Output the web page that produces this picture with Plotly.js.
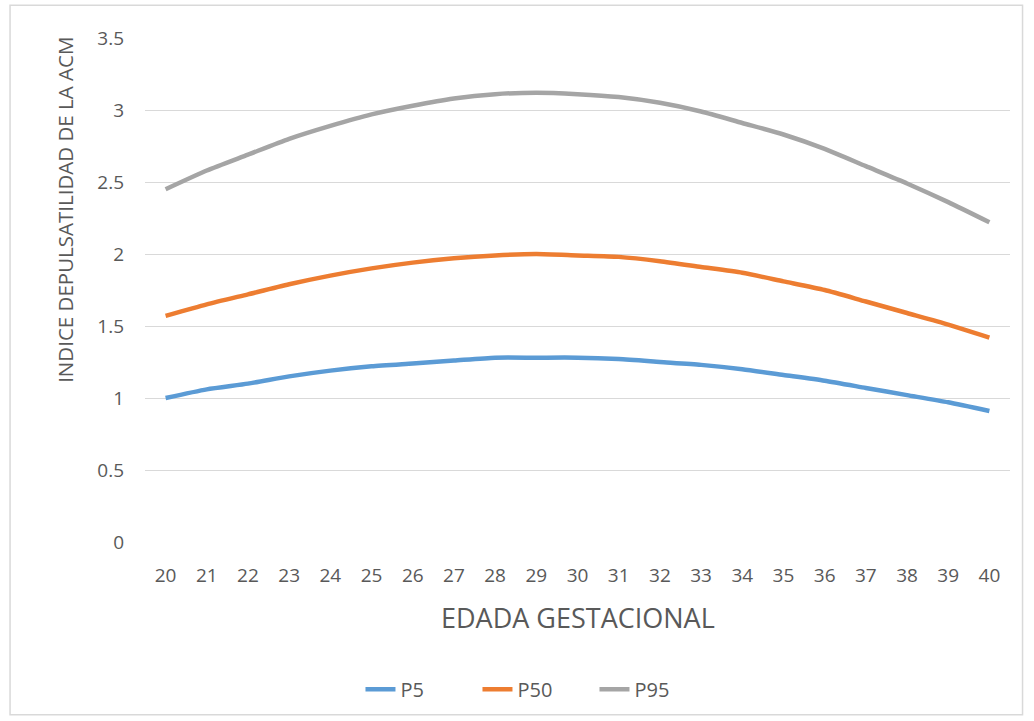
<!DOCTYPE html>
<html><head><meta charset="utf-8">
<script src="https://cdn.plot.ly/plotly-3.0.1.min.js"></script>
<style>html,body{margin:0;padding:0;background:#fff}#chart{width:1034px;height:721px}</style>
</head><body><div id="chart"></div>
<script>
const weeks = ["20","21","22","23","24","25","26","27","28","29","30","31","32","33","34","35","36","37","38","39","40"];
const p5  = [1.00,1.06,1.10,1.15,1.19,1.22,1.24,1.26,1.28,1.28,1.28,1.27,1.25,1.23,1.20,1.16,1.12,1.07,1.02,0.97,0.91];
const p50 = [1.57,1.65,1.72,1.79,1.85,1.90,1.94,1.97,1.99,2.00,1.99,1.98,1.95,1.91,1.87,1.81,1.75,1.67,1.59,1.51,1.42];
const p95 = [2.45,2.58,2.69,2.80,2.89,2.97,3.03,3.08,3.11,3.12,3.11,3.09,3.05,2.99,2.91,2.83,2.73,2.61,2.49,2.36,2.22];
const yTicks = [0,0.5,1,1.5,2,2.5,3,3.5];
const yTickText = ["0","0.5","1","1.5","2","2.5","3","3.5"];
const F = "Open Sans, Noto Sans, sans-serif";
const mk = (name, y, color) => ({x: weeks, y: y, name: name, type: 'scatter', mode: 'lines',
  line: {color: color, width: 4.5, shape: 'spline', smoothing: 0.6}, hoverinfo: 'skip'});
const data = [mk('P5', p5, '#5B9BD5'), mk('P50', p50, '#ED7D31'), mk('P95', p95, '#A5A5A5')];
const layout = {
  width: 1034, height: 721,
  margin: {l: 145, r: 24, t: 38, b: 179},
  paper_bgcolor: '#fff', plot_bgcolor: '#fff',
  font: {family: F, color: '#595959', size: 19},
  showlegend: true,
  legend: {orientation: 'h', x: 0.452, xanchor: 'center', y: -0.292, yanchor: 'middle',
    font: {family: F, size: 20, color: '#595959'}, tracegroupgap: 0, entrywidth: 72},
  xaxis: {type: 'category', range: [-0.5, 20.5], showgrid: false, zeroline: false,
    showline: false, ticks: '', ticklabelstandoff: 20,
    tickfont: {family: F, size: 19, color: '#595959'}, fixedrange: true},
  yaxis: {range: [0, 3.5], tickvals: yTicks, ticktext: yTickText, showgrid: true, gridcolor: '#d9d9d9',
    gridwidth: 1, zeroline: false, showline: false, ticks: '', ticklabelstandoff: 20,
    tickfont: {family: F, size: 19, color: '#595959'}, fixedrange: true},
  annotations: [
    {text: 'INDICE DEPULSATILIDAD DE LA ACM', xref: 'paper', yref: 'paper', x: -0.0925, y: 0.659,
     xanchor: 'center', yanchor: 'middle', textangle: -90, showarrow: false,
     font: {family: F, size: 20.5, color: '#595959'}},
    {text: 'EDADA GESTACIONAL', xref: 'paper', yref: 'paper', x: 0.5, y: -0.149,
     xanchor: 'center', yanchor: 'middle', showarrow: false,
     font: {family: F, size: 27, color: '#595959'}}
  ],
  shapes: [{type: 'rect', xref: 'paper', yref: 'paper', x0: -0.156, x1: 1.0145, y0: -0.343, y1: 1.065,
    line: {color: '#d9d9d9', width: 1.5}, fillcolor: 'rgba(0,0,0,0)', layer: 'below'}]
};
Plotly.newPlot('chart', data, layout, {displayModeBar: false, staticPlot: true});
</script></body></html>
